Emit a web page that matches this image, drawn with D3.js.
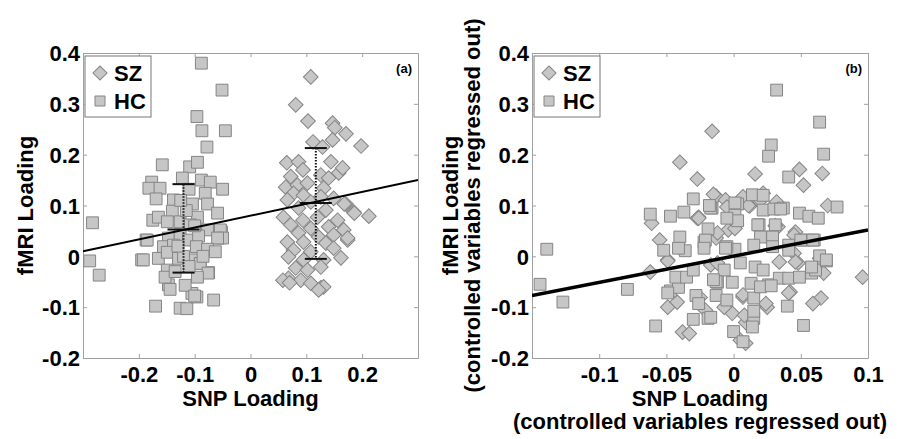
<!DOCTYPE html>
<html>
<head>
<meta charset="utf-8">
<script src="https://cdn.jsdelivr.net/npm/d3@7"></script>
<style>
  body { margin: 0; background: #fff; }
  svg { display: block; font-family: "Liberation Sans", Arial, sans-serif; }
  .tick text { font-weight: bold; font-size: 22px; fill: #000; }
</style>
</head>
<body>
<div id="chart"></div>
<script>
// ---- data ----
const yTicks = [-0.2, -0.1, 0, 0.1, 0.2, 0.3, 0.4];
const leftXTicks = [-0.2, -0.1, 0, 0.1, 0.2];
const rightXTicks = [-0.1, -0.05, 0, 0.05, 0.1];
const tickLabel = v => (v === 0 ? "0" : String(v));

// panel (a): SNP loading vs fMRI loading
const leftHC = [
  [-0.088,0.38],[-0.051,0.327],[-0.096,0.275],[-0.087,0.247],[-0.045,0.247],[-0.078,0.215],
  [-0.158,0.18],[-0.109,0.176],[-0.095,0.185],[-0.283,0.066],[-0.288,-0.009],[-0.271,-0.037],
  [-0.195,-0.007],[-0.17,-0.098],[-0.126,-0.102],[-0.114,-0.103],[-0.066,-0.086],[-0.105,-0.073],
  [-0.096,-0.08],[-0.147,-0.056],[-0.075,-0.032],[-0.09,-0.01],[-0.187,0.032],[-0.057,0.036],
  [-0.052,0.048],[-0.177,0.146],[-0.182,0.134],[-0.162,0.134],[-0.122,0.154],[-0.088,0.15],
  [-0.072,0.146],[-0.05,0.132],[-0.081,0.124],[-0.11,0.132],[-0.169,0.113],[-0.138,0.111],
  [-0.104,0.103],[-0.077,0.103],[-0.14,0.089],[-0.059,0.085],[-0.175,0.071],[-0.165,0.077],
  [-0.149,0.068],[-0.126,0.068],[-0.095,0.077],[-0.108,0.062],[-0.054,0.052],[-0.05,0.036],
  [-0.077,0.052],[-0.185,0.032],[-0.147,0.036],[-0.126,0.042],[-0.111,0.032],[-0.093,0.04],
  [-0.059,0.036],[-0.156,0.019],[-0.138,0.022],[-0.097,0.019],[-0.077,0.014],[-0.063,0.009],
  [-0.192,-0.007],[-0.165,-0.004],[-0.149,0.008],[-0.129,-0.004],[-0.102,-0.007],[-0.09,-0.014],
  [-0.149,-0.027],[-0.153,-0.041],[-0.076,-0.033],[-0.095,-0.041],[-0.144,-0.065],[-0.117,-0.057],
  [-0.1,-0.078],[-0.115,0.09],[-0.125,0.11],[-0.1,0.06],[-0.12,0.0],[-0.13,0.02],
  [-0.085,0.0],[-0.11,-0.02],[-0.135,-0.03]
];
const leftSZ = [
  [0.108,0.353],[0.081,0.298],[0.103,0.266],[0.147,0.262],[0.151,0.253],[0.171,0.241],
  [0.198,0.217],[0.112,0.225],[0.147,0.229],[0.129,0.215],[0.065,0.184],[0.086,0.186],
  [0.144,0.186],[0.158,0.164],[0.165,0.174],[0.072,0.157],[0.094,0.17],[0.126,0.16],
  [0.14,0.154],[0.063,0.136],[0.084,0.14],[0.102,0.144],[0.131,0.134],[0.077,0.124],
  [0.095,0.12],[0.126,0.117],[0.066,0.111],[0.108,0.107],[0.149,0.114],[0.171,0.103],
  [0.185,0.087],[0.212,0.079],[0.086,0.095],[0.135,0.091],[0.059,0.077],[0.094,0.071],
  [0.12,0.077],[0.156,0.071],[0.072,0.062],[0.108,0.055],[0.14,0.058],[0.167,0.052],
  [0.086,0.046],[0.122,0.038],[0.149,0.042],[0.066,0.028],[0.095,0.028],[0.135,0.026],
  [0.174,0.032],[0.077,0.012],[0.108,0.009],[0.149,0.016],[0.068,-0.001],[0.095,-0.007],
  [0.131,-0.007],[0.162,-0.003],[0.081,-0.023],[0.102,-0.027],[0.126,-0.021],[0.068,-0.043],
  [0.09,-0.047],[0.108,-0.053],[0.126,-0.062],[0.131,-0.06],[0.058,-0.047],[0.07,-0.052],
  [0.122,-0.066],[0.186,0.085],[0.174,0.036],[0.168,0.103]
];
// group means +/- sd: [x, mean, low, high]
const errorBars = [[-0.12, 0.053, -0.032, 0.142], [0.117, 0.105, -0.005, 0.213]];
const leftFit = [[-0.3, 0.01], [0.3, 0.15]];

// panel (b): controlled variables regressed out
const rightHC = [
  [0.032,0.327],[0.064,0.264],[0.067,0.201],[0.028,0.219],[0.026,0.197],[0.041,0.156],
  [0.014,0.121],[-0.03,0.113],[0.003,0.103],[-0.016,0.095],[0.022,0.091],[0.03,0.093],
  [0.037,0.095],[0.049,0.085],[0.056,0.079],[0.063,0.075],[0.077,0.097],[-0.062,0.083],
  [-0.047,0.079],[-0.037,0.087],[-0.139,0.014],[-0.144,-0.055],[-0.127,-0.09],[-0.079,-0.065],
  [-0.058,-0.137],[0.052,-0.136],[-0.052,0.012],[-0.04,0.038],[-0.036,0.011],[-0.022,0.028],
  [-0.019,0.054],[-0.047,-0.068],[-0.041,-0.061],[-0.043,-0.041],[-0.035,-0.041],[-0.028,-0.077],
  [-0.026,-0.093],[-0.03,-0.124],[-0.019,-0.122],[-0.013,-0.077],[-0.012,-0.051],[-0.007,-0.027],
  [-0.005,-0.086],[0.0,-0.148],[-0.001,-0.051],[0.001,0.014],[-0.005,0.019],[0.005,-0.013],
  [0.007,-0.168],[0.013,-0.053],[0.015,-0.082],[0.015,-0.122],[0.014,-0.139],[0.016,-0.021],
  [0.022,-0.027],[0.026,-0.056],[0.02,-0.06],[0.04,-0.098],[0.034,-0.043],[0.041,-0.043],
  [0.049,-0.041],[0.058,-0.033],[0.061,-0.027],[0.069,-0.009],[0.06,0.032],[0.052,0.032],
  [0.041,0.022],[0.028,0.038],[0.019,0.062],[0.031,0.062],[0.035,0.093],[0.001,0.081],
  [0.001,0.105],[0.022,0.12],[0.003,0.07],[-0.017,0.095],[-0.005,0.075],[0.018,0.062],
  [0.02,0.038],[0.029,0.038],[0.05,0.032],[0.059,0.032],[-0.006,0.016],[0.015,0.022],
  [0.029,0.019],[0.041,0.012],[0.064,0.001],[0.069,-0.007],[0.058,-0.021],[-0.013,-0.05],
  [0.028,-0.058],[-0.017,-0.12],[0.015,-0.108],[-0.049,-0.072],[-0.03,-0.027],[-0.021,0.032],
  [-0.022,0.016],[-0.015,-0.046],[-0.041,0.016],[-0.018,0.1]
];
const rightSZ = [
  [-0.016,0.246],[-0.04,0.185],[-0.027,0.152],[0.016,0.162],[0.049,0.171],[0.052,0.14],
  [0.066,0.163],[0.07,0.1],[-0.013,0.118],[-0.006,0.111],[0.007,0.117],[0.012,0.099],
  [0.022,0.124],[0.032,0.107],[-0.026,0.077],[0.096,-0.041],[0.065,-0.082],[0.059,-0.093],
  [0.067,-0.033],[0.064,-0.004],[0.048,-0.013],[0.045,0.006],[0.042,-0.07],[0.046,0.048],
  [0.025,-0.1],[0.007,-0.08],[0.009,-0.171],[0.005,-0.165],[0.009,-0.13],[-0.001,-0.112],
  [-0.007,-0.1],[-0.017,-0.017],[-0.013,0.036],[-0.004,0.052],[-0.005,0.097],[-0.062,-0.031],
  [-0.055,0.032],[-0.049,-0.007],[-0.049,-0.1],[-0.042,-0.09],[-0.038,-0.149],[-0.033,-0.152],
  [-0.025,-0.081],[-0.021,-0.106],[-0.027,0.075],[0.033,0.058],[0.034,-0.011],[0.011,0.1],
  [0.031,0.06],[-0.012,0.046],[0.001,0.055],[0.045,0.042],[0.046,-0.011],[0.024,-0.093],
  [0.041,-0.072],[0.007,-0.076],[0.008,-0.116],[-0.061,0.065],[-0.015,0.122],[-0.026,0.075],
  [-0.049,-0.009],[-0.012,-0.013],[0.02,0.11]
];
const rightFit = [[-0.15, -0.077], [0.1, 0.052]];

// ---- layout ----
const width = 901, height = 439;
const plotTop = 53, plotBottom = 358;
const panels = [
  { id: "a", x0: 83, x1: 418, domain: [-0.3, 0.3], xTicks: leftXTicks, hc: leftHC, sz: leftSZ,
    fit: leftFit, fitWidth: 2, bars: errorBars, label: "(a)" },
  { id: "b", x0: 532, x1: 868, domain: [-0.15, 0.1], xTicks: rightXTicks, hc: rightHC, sz: rightSZ,
    fit: rightFit, fitWidth: 3.5, bars: [], label: "(b)" }
];

const markerFill = "#c6c6c6", markerStroke = "#858585", boxColor = "#a0a0a0";
const squarePath = d3.symbol(d3.symbolSquare, 140)();
const diamondPath = d3.symbol(d3.symbolSquare, 108)();

const svg = d3.select("#chart").append("svg")
  .attr("width", width)
  .attr("height", height);

panels.forEach(p => {
  const x = d3.scaleLinear().domain(p.domain).range([p.x0, p.x1]);
  const y = d3.scaleLinear().domain([-0.2, 0.4]).range([plotBottom, plotTop]);

  const g = svg.append("g");

  const clipId = "clip-" + p.id;
  g.append("clipPath").attr("id", clipId)
    .append("rect")
    .attr("x", p.x0).attr("y", plotTop)
    .attr("width", p.x1 - p.x0).attr("height", plotBottom - plotTop);

  // axes with inward ticks on all four sides
  const bottom = g.append("g").attr("transform", `translate(0,${plotBottom})`)
    .call(d3.axisBottom(x).tickValues(p.xTicks).tickFormat(tickLabel)
      .tickSizeInner(-4).tickSizeOuter(0).tickPadding(8));
  const top = g.append("g").attr("transform", `translate(0,${plotTop})`)
    .call(d3.axisTop(x).tickValues(p.xTicks).tickFormat("").tickSizeInner(-4).tickSizeOuter(0));
  const left = g.append("g").attr("transform", `translate(${p.x0},0)`)
    .call(d3.axisLeft(y).tickValues(yTicks).tickFormat(tickLabel)
      .tickSizeInner(-4).tickSizeOuter(0).tickPadding(3));
  const right = g.append("g").attr("transform", `translate(${p.x1},0)`)
    .call(d3.axisRight(y).tickValues(yTicks).tickFormat("").tickSizeInner(-4).tickSizeOuter(0));
  [bottom, top, left, right].forEach(a => {
    a.selectAll("path, line").attr("stroke", boxColor);
  });
  left.selectAll(".tick text").attr("dy", "0.35em");

  const pts = g.append("g").attr("clip-path", `url(#${clipId})`);

  // SZ first, HC on top
  pts.selectAll(".sz").data(p.sz).enter().append("path")
    .attr("class", "sz")
    .attr("d", diamondPath)
    .attr("transform", d => `translate(${x(d[0])},${y(d[1])}) rotate(45)`)
    .attr("fill", markerFill).attr("stroke", markerStroke).attr("stroke-width", 1);

  pts.selectAll(".hc").data(p.hc).enter().append("path")
    .attr("class", "hc")
    .attr("d", squarePath)
    .attr("transform", d => `translate(${x(d[0])},${y(d[1])})`)
    .attr("fill", markerFill).attr("stroke", markerStroke).attr("stroke-width", 1);

  // error bars
  p.bars.forEach(b => {
    const bx = x(b[0]);
    g.append("line")
      .attr("x1", bx).attr("x2", bx).attr("y1", y(b[3])).attr("y2", y(b[2]))
      .attr("stroke", "#111").attr("stroke-width", 2).attr("stroke-dasharray", "1.5,1.5");
    [[b[3], 11], [b[2], 11], [b[1], 16]].forEach(([v, hw]) => {
      g.append("line")
        .attr("x1", bx - hw).attr("x2", bx + hw).attr("y1", y(v)).attr("y2", y(v))
        .attr("stroke", "#111").attr("stroke-width", 2);
    });
  });

  // regression line
  g.append("path")
    .datum(p.fit)
    .attr("clip-path", `url(#${clipId})`)
    .attr("fill", "none")
    .attr("stroke", "#000")
    .attr("stroke-width", p.fitWidth)
    .attr("d", d3.line().x(d => x(d[0])).y(d => y(d[1])));

  // panel tag
  g.append("text")
    .attr("x", p.x1 - 6).attr("y", plotTop + 20)
    .attr("text-anchor", "end")
    .style("font-weight", "bold").style("font-size", "13px")
    .text(p.label);

  // legend
  const lg = g.append("g").attr("transform", `translate(${p.x0 + 2},${plotTop + 3})`);
  lg.append("rect")
    .attr("width", 66).attr("height", 61)
    .attr("fill", "#fff").attr("stroke", "#777").attr("stroke-width", 1);
  lg.append("path").attr("d", d3.symbol(d3.symbolSquare, 100)())
    .attr("transform", "translate(15,17) rotate(45)")
    .attr("fill", markerFill).attr("stroke", markerStroke);
  lg.append("path").attr("d", d3.symbol(d3.symbolSquare, 100)())
    .attr("transform", "translate(15,45)")
    .attr("fill", markerFill).attr("stroke", markerStroke);
  lg.selectAll(".lt").data(["SZ", "HC"]).enter().append("text")
    .attr("x", 29).attr("y", (d, i) => 25 + i * 28)
    .style("font-weight", "bold").style("font-size", "22px")
    .text(d => d);

  // x label
  const xc = (p.x0 + p.x1) / 2;
  g.append("text")
    .attr("x", xc).attr("y", 406)
    .attr("text-anchor", "middle")
    .style("font-weight", "bold").style("font-size", "22px")
    .text("SNP Loading");
  if (p.id === "b") {
    g.append("text")
      .attr("x", xc).attr("y", 429)
      .attr("text-anchor", "middle")
      .style("font-weight", "bold").style("font-size", "22px")
      .text("(controlled variables regressed out)");
  }

  // y label
  const yc = (plotTop + plotBottom) / 2;
  const yLines = p.id === "a"
    ? [["fMRI Loading", 33]]
    : [["fMRI Loading", 458], ["(controlled variables regressed out)", 480]];
  yLines.forEach(([t, bx]) => {
    g.append("text")
      .attr("transform", `translate(${bx},${yc}) rotate(-90)`)
      .attr("text-anchor", "middle")
      .style("font-weight", "bold").style("font-size", "22px")
      .text(t);
  });
});
</script>
</body>
</html>
